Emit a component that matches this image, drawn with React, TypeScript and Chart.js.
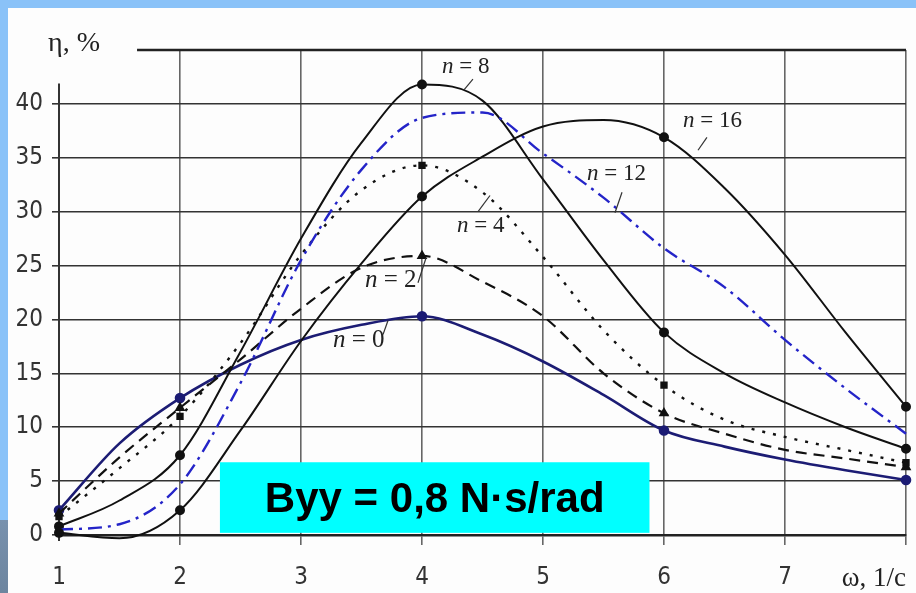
import React, { useEffect, useRef } from 'react';
import { Chart, registerables } from 'chart.js';

Chart.register(...registerables);

// ω, 1/c
const omega = [1, 1.5, 2, 2.5, 3, 3.5, 4, 4.5, 5, 5.5, 6, 6.5, 7, 7.5, 8];
// η, % for each n
const etaN0 = [2.3, 8.5, 12.7, 15.8, 18.1, 19.5, 20.3, 18.6, 16.1, 13.0, 9.7, 8.2, 7.0, 6.0, 5.1];
const etaN2 = [2.0, 7.2, 11.8, 16.3, 21.0, 24.8, 25.9, 23.5, 20.3, 15.0, 11.3, 9.4, 7.9, 7.1, 6.3];
const etaN4 = [1.7, 6.2, 11.0, 17.8, 26.0, 32.0, 34.3, 31.8, 25.8, 19.0, 13.9, 10.7, 9.1, 7.9, 6.7];
const etaN8 = [0.8, 3.2, 7.4, 17.0, 27.5, 36.4, 41.8, 40.3, 33.0, 25.5, 18.8, 15.0, 12.3, 10.0, 8.0];
const etaN12 = [0.5, 1.0, 4.7, 14.1, 25.5, 33.9, 38.7, 39.2, 35.4, 31.3, 26.6, 23.0, 18.1, 13.6, 9.4];
const etaN16 = [0.2, -0.3, 2.3, 9.7, 18.0, 25.2, 31.4, 35.1, 37.9, 38.5, 36.9, 32.2, 26.0, 18.8, 11.9];

const markerOmega = [1, 2, 4, 6, 8];
const xTicks = [1, 2, 3, 4, 5, 6, 7, 8];
const yTicks = [0, 5, 10, 15, 20, 25, 30, 35, 40, 45];

const xTitle = 'ω, 1/c';
const yTitle = 'η, %';
const boxText = 'Byy = 0,8 N·s/rad';

// curve labels: n text, value text, anchor (ω, η), size, leader from (ω, η) to (ω, η)
const curveLabels = [
  { n: 'n', rest: ' = 8', x: 4.165, y: 42.9, size: 23, lx1: 4.347, ly1: 41.3, lx2: 4.421, ly2: 42.3 },
  { n: 'n', rest: ' = 16', x: 6.157, y: 37.85, size: 23, lx1: 6.281, ly1: 35.7, lx2: 6.355, ly2: 36.9 },
  { n: 'n', rest: ' = 12', x: 5.364, y: 32.94, size: 23, lx1: 5.595, ly1: 29.9, lx2: 5.653, ly2: 31.8 },
  { n: 'n', rest: ' = 4', x: 4.289, y: 28.11, size: 23, lx1: 4.463, ly1: 30.0, lx2: 4.562, ly2: 31.5 },
  { n: 'n', rest: ' = 2', x: 3.529, y: 23.01, size: 25, lx1: 3.967, ly1: 23.4, lx2: 4.033, ly2: 25.7 },
  { n: 'n', rest: ' = 0', x: 3.264, y: 17.44, size: 25, lx1: 3.678, ly1: 18.6, lx2: 3.719, ly2: 19.9 },
];

const SERIF = "'Liberation Serif', 'Times New Roman', serif";
const NARROW = "'Liberation Sans Narrow', 'Arial Narrow', 'DejaVu Sans Condensed', sans-serif";
const SANS = "'Liberation Sans', Arial, sans-serif";

const toPts = (arr: number[]) => omega.map((x, i) => ({ x, y: arr[i] }));

const markerRadius = (r: number) => (ctx: any) =>
  markerOmega.includes(omega[ctx.dataIndex]) ? r : 0;

const decorPlugin = {
  id: 'decor',
  beforeDatasetsDraw(chart: any) {
    const { ctx, scales } = chart;
    const xs = scales.x;
    const ys = scales.y;
    ctx.save();
    ctx.strokeStyle = '#222';
    // top border line (starts right of the axis title)
    ctx.lineWidth = 2.5;
    ctx.beginPath();
    ctx.moveTo(xs.getPixelForValue(1.645), ys.getPixelForValue(45));
    ctx.lineTo(xs.getPixelForValue(8), ys.getPixelForValue(45));
    ctx.stroke();
    // left axis line
    ctx.lineWidth = 2;
    ctx.strokeStyle = '#333';
    ctx.beginPath();
    ctx.moveTo(xs.getPixelForValue(1), ys.getPixelForValue(41.9));
    ctx.lineTo(xs.getPixelForValue(1), ys.getPixelForValue(0) + 6);
    ctx.stroke();
    ctx.restore();
  },
  afterDatasetsDraw(chart: any) {
    const { ctx, scales, chartArea } = chart;
    const xs = scales.x;
    const ys = scales.y;
    ctx.save();
    // curve labels
    ctx.fillStyle = '#222';
    ctx.textBaseline = 'alphabetic';
    ctx.textAlign = 'left';
    for (const l of curveLabels) {
      const px = xs.getPixelForValue(l.x);
      const py = ys.getPixelForValue(l.y);
      ctx.font = `italic ${l.size}px ${SERIF}`;
      ctx.fillText(l.n, px, py);
      const w = ctx.measureText(l.n).width;
      ctx.font = `${l.size}px ${SERIF}`;
      ctx.fillText(l.rest, px + w, py);
      ctx.strokeStyle = '#333';
      ctx.lineWidth = 1.2;
      ctx.beginPath();
      ctx.moveTo(xs.getPixelForValue(l.lx1), ys.getPixelForValue(l.ly1));
      ctx.lineTo(xs.getPixelForValue(l.lx2), ys.getPixelForValue(l.ly2));
      ctx.stroke();
    }
    // axis titles
    ctx.fillStyle = '#222';
    ctx.font = `28px ${SERIF}`;
    ctx.textAlign = 'left';
    ctx.fillText(yTitle, chartArea.left - 11, chartArea.top + 1);
    ctx.font = `27px ${SERIF}`;
    ctx.textAlign = 'right';
    ctx.fillText(xTitle, chartArea.right, chartArea.bottom + 51);
    // cyan box
    const bx1 = xs.getPixelForValue(2.33);
    const bx2 = xs.getPixelForValue(5.88);
    const by1 = ys.getPixelForValue(6.75);
    const by2 = ys.getPixelForValue(0.2);
    ctx.fillStyle = '#00ffff';
    ctx.fillRect(bx1, by1, bx2 - bx1, by2 - by1);
    ctx.fillStyle = '#000';
    ctx.font = `bold 42px ${SANS}`;
    ctx.textAlign = 'center';
    ctx.textBaseline = 'alphabetic';
    ctx.fillText(boxText, (bx1 + bx2) / 2, by1 + 50);
    ctx.restore();
  },
};

export default function App() {
  const canvasRef = useRef<HTMLCanvasElement | null>(null);

  useEffect(() => {
    const canvas = canvasRef.current;
    if (!canvas) return;
    const chart = new Chart(canvas, {
      type: 'line',
      data: {
        datasets: [
          {
            label: 'n = 16',
            data: toPts(etaN16),
            borderColor: '#111',
            backgroundColor: '#111',
            borderWidth: 2,
            pointRadius: markerRadius(4),
            pointStyle: 'circle',
          },
          {
            label: 'n = 12',
            data: toPts(etaN12),
            borderColor: '#2424c8',
            backgroundColor: '#2424c8',
            borderWidth: 2.4,
            borderDash: [14, 6, 3, 6],
            pointRadius: 0,
          },
          {
            label: 'n = 8',
            data: toPts(etaN8),
            borderColor: '#111',
            backgroundColor: '#111',
            borderWidth: 2,
            pointRadius: markerRadius(4),
            pointStyle: 'circle',
          },
          {
            label: 'n = 4',
            data: toPts(etaN4),
            borderColor: '#111',
            backgroundColor: '#111',
            borderWidth: 2.4,
            borderDash: [3, 8],
            pointRadius: markerRadius(3.5),
            pointStyle: 'rect',
          },
          {
            label: 'n = 2',
            data: toPts(etaN2),
            borderColor: '#111',
            backgroundColor: '#111',
            borderWidth: 2.2,
            borderDash: [11, 7],
            pointRadius: markerRadius(4),
            pointStyle: 'triangle',
          },
          {
            label: 'n = 0',
            data: toPts(etaN0),
            borderColor: '#1c1c74',
            backgroundColor: '#1c1c74',
            borderWidth: 2.6,
            pointRadius: markerRadius(4),
            pointStyle: 'circle',
          },
        ],
      },
      options: {
        animation: false,
        responsive: false,
        devicePixelRatio: 1,
        layout: { padding: { top: 50, right: 10, left: 0, bottom: 0 } },
        plugins: {
          legend: { display: false },
          tooltip: { enabled: false },
        },
        datasets: { line: { cubicInterpolationMode: 'monotone', clip: 8 } },
        scales: {
          x: {
            type: 'linear',
            min: 1,
            max: 8,
            afterBuildTicks: (s: any) => {
              s.ticks = xTicks.map((v) => ({ value: v }));
            },
            afterFit: (s: any) => {
              s.height = 58;
              s.paddingLeft = 0;
              s.paddingRight = 0;
            },
            ticks: {
              autoSkip: false,
              maxRotation: 0,
              padding: 18,
              color: '#333',
              font: { family: NARROW, size: 24 },
              callback: (v: any) => (v === 8 ? '' : String(v)),
            },
            grid: {
              color: (c: any) => (c.tick && c.tick.value === 1 ? 'rgba(0,0,0,0)' : '#666'),
              lineWidth: 1.6,
              tickLength: 10,
            },
            border: { display: true, color: '#222', width: 2.5 },
          },
          y: {
            type: 'linear',
            min: 0,
            max: 45,
            afterBuildTicks: (s: any) => {
              s.ticks = yTicks.map((v) => ({ value: v }));
            },
            afterFit: (s: any) => {
              s.width = 59;
              s.paddingTop = 0;
              s.paddingBottom = 0;
            },
            ticks: {
              padding: 9,
              color: '#333',
              font: { family: NARROW, size: 24 },
              callback: (v: any) => (v === 45 ? '' : String(v)),
            },
            grid: {
              color: (c: any) => (c.tick && c.tick.value === 45 ? 'rgba(0,0,0,0)' : '#333'),
              lineWidth: 1.6,
              tickLength: 7,
            },
            border: { display: false },
          },
        },
      } as any,
      plugins: [decorPlugin],
    });
    return () => chart.destroy();
  }, []);

  return (
    <div
      style={{
        position: 'absolute',
        left: 0,
        top: 0,
        width: 916,
        height: 593,
        background: '#8ac2f8',
        overflow: 'hidden',
      }}
    >
      <div
        style={{
          position: 'absolute',
          left: 0,
          top: 520,
          width: 8,
          height: 73,
          background: 'linear-gradient(#7891ad, #6d859f)',
        }}
      />
      <div
        style={{
          position: 'absolute',
          left: 8,
          top: 8,
          right: 0,
          bottom: 0,
          background: '#fdfdfd',
        }}
      />
      <canvas
        ref={canvasRef}
        width={916}
        height={593}
        style={{ position: 'absolute', left: 0, top: 0, width: 916, height: 593 }}
      />
    </div>
  );
}
